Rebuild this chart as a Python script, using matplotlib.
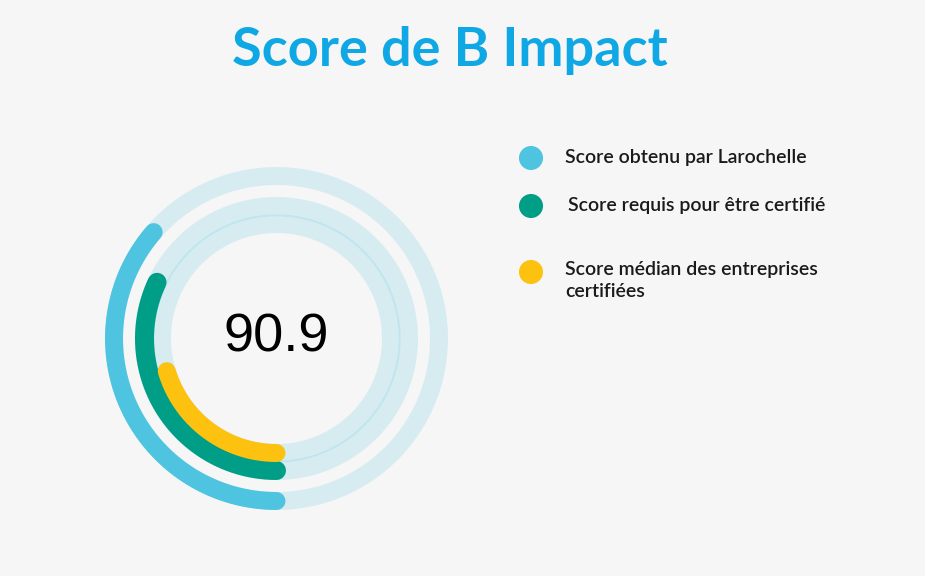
import matplotlib.pyplot as plt
import numpy as np

# data
labels = ["Score obtenu par Larochelle",
          "Score requis pour être certifié",
          "Score médian des entreprises\ncertifiées"]
scores = [90.9, 80, 51]
max_score = 250
colors = ["#4ec4e1", "#009e86", "#fdc110"]

bg = "#f6f6f6"
W, H = 925, 576

fig = plt.figure(figsize=(W / 100, H / 100), dpi=100, facecolor=bg)

# overlay axes in pixel coords for title + legend
ov = fig.add_axes([0, 0, 1, 1])
ov.set_xlim(0, W)
ov.set_ylim(H, 0)
ov.axis("off")

ov.text(W / 2 - 13, 66, "Score de B Impact", fontsize=39, fontweight="bold",
        family="Lato", color="#10a8e4", ha="center", va="baseline")

leg_y = [158, 206, 272]
leg_tx = [565, 568, 565]
leg_base = [163.5, 211, 275.5]
ov.scatter([531] * 3, leg_y, s=300, c=colors, edgecolors="none")
for lab, x, yb in zip(labels, leg_tx, leg_base):
    for i, line in enumerate(lab.split("\n")):
        ov.text(x, yb + i * 21.5, line, fontsize=14, family="Lato",
                fontweight="semibold", color="#1a1a1a",
                ha="left", va="baseline")

# radial rings
cx, cy, R = 276.5, 338.5, 172
ax = fig.add_axes([(cx - R) / W, (H - cy - R) / H, 2 * R / W, 2 * R / H],
                  projection="polar")
ax.set_theta_zero_location("S")
ax.set_theta_direction(-1)
ax.set_ylim(0, R)
ax.axis("off")
ax.patch.set_alpha(0)

px = 0.72  # points per pixel
radii = [162.5, 132, 114.5]
widths = [18, 19, 18]

full = np.linspace(0, 2 * np.pi, 400)
for r, w in zip(radii, widths):
    ax.plot(full, np.full_like(full, r), color="#b3e0ec", alpha=0.45,
            lw=w * px, solid_capstyle="butt")
# faint ring between the two inner tracks
ax.plot(full, np.full_like(full, 123.2), color="#bfe5f0", lw=1.8 * px)

for r, w, v, c in zip(radii, widths, scores, colors):
    th = np.linspace(0, v / max_score * 2 * np.pi, 200)
    ax.plot(th, np.full_like(th, r), color=c, lw=w * px,
            solid_capstyle="round")

ov.text(cx, 352, f"{scores[0]:g}", fontsize=39, family="Liberation Sans",
        color="black", ha="center", va="baseline")

fig.savefig("out.png", dpi=100, facecolor=bg)
